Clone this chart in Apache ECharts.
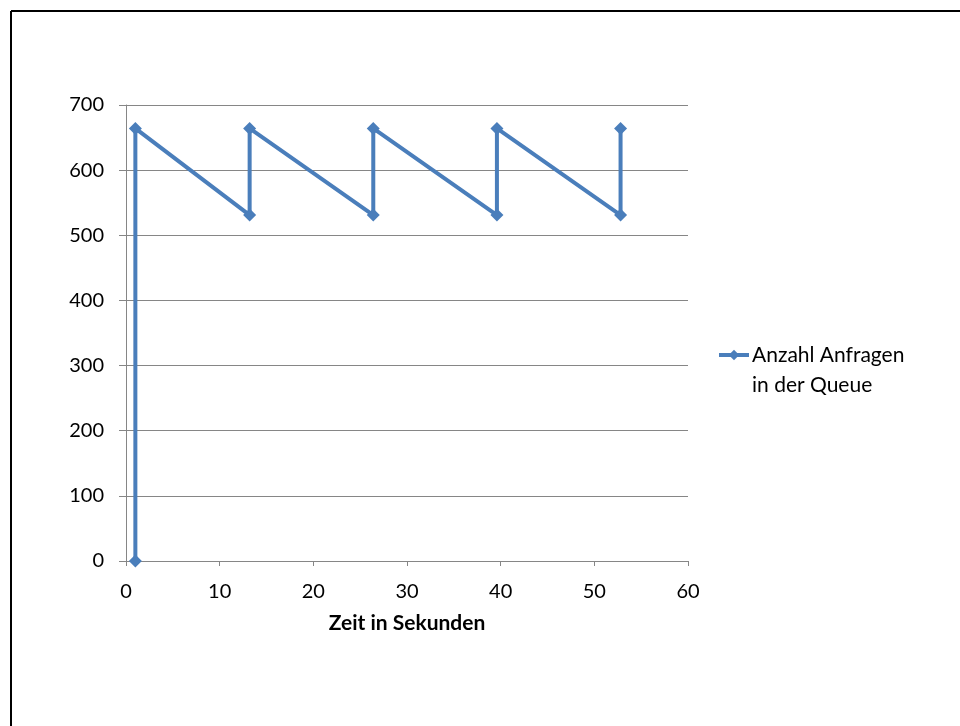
<!DOCTYPE html>
<html>
<head>
<meta charset="utf-8">
<script src="https://cdn.jsdelivr.net/npm/echarts@6/dist/echarts.min.js"></script>
<style>
html,body{margin:0;padding:0;background:#fff;}
#chart{width:960px;height:726px;}
</style>
</head>
<body>
<div id="chart"></div>
<script>
const seriesName = 'Anzahl Anfragen in der Queue';
const timeSeconds = [1, 1, 13.2, 13.2, 26.4, 26.4, 39.6, 39.6, 52.8, 52.8];
const queueCount = [0, 664, 531, 664, 531, 664, 531, 664, 531, 664];
const xAxisTitle = 'Zeit in Sekunden';

const points = timeSeconds.map((t, i) => [t, queueCount[i]]);
const FONT = 'Lato, "Open Sans", sans-serif';
const chart = echarts.init(document.getElementById('chart'));
chart.setOption({
  animation: false,
  backgroundColor: '#ffffff',
  textStyle: { fontFamily: FONT },
  grid: { left: 126, right: 272, top: 105, bottom: 165 },
  graphic: [
    { type: 'line', shape: { x1: 11, y1: 11, x2: 960, y2: 11 }, style: { stroke: '#000', lineWidth: 2 } },
    { type: 'line', shape: { x1: 11, y1: 11, x2: 11, y2: 726 }, style: { stroke: '#000', lineWidth: 2 } }
  ],
  legend: {
    left: 712, top: 305,
    orient: 'vertical',
    itemWidth: 30, itemHeight: 13,
    itemGap: 0,
    formatter: () => ' \nAnzahl Anfragen\nin der Queue',
    lineStyle: { width: 4 },
    textStyle: { fontFamily: FONT, fontSize: 21, color: '#000', lineHeight: 30, padding: [0, 0, 0, -2] },
    data: [seriesName]
  },
  xAxis: {
    type: 'value', min: 0, max: 60, interval: 10,
    name: xAxisTitle, nameLocation: 'middle', nameGap: 52,
    nameTextStyle: { fontFamily: FONT, fontSize: 21, fontWeight: 'bold', color: '#000' },
    axisLine: { show: true, lineStyle: { color: '#868686', width: 1 } },
    axisTick: { show: true, length: 5, lineStyle: { color: '#868686' } },
    axisLabel: { fontFamily: FONT, fontSize: 20, color: '#000', margin: 21 },
    splitLine: { show: false }
  },
  yAxis: {
    type: 'value', min: 0, max: 700, interval: 100,
    axisLine: { show: true, lineStyle: { color: '#868686', width: 1 } },
    axisTick: { show: true, length: 7, lineStyle: { color: '#868686' } },
    axisLabel: { fontFamily: FONT, fontSize: 20, color: '#000', margin: 22 },
    splitLine: { show: true, lineStyle: { color: '#868686', width: 1 } }
  },
  series: [{
    name: seriesName,
    type: 'line',
    data: points,
    symbol: 'diamond',
    symbolSize: 13,
    showAllSymbol: true,
    lineStyle: { color: '#4a7ebb', width: 4 },
    itemStyle: { color: '#4a7ebb' }
  }]
});
</script>
</body>
</html>
